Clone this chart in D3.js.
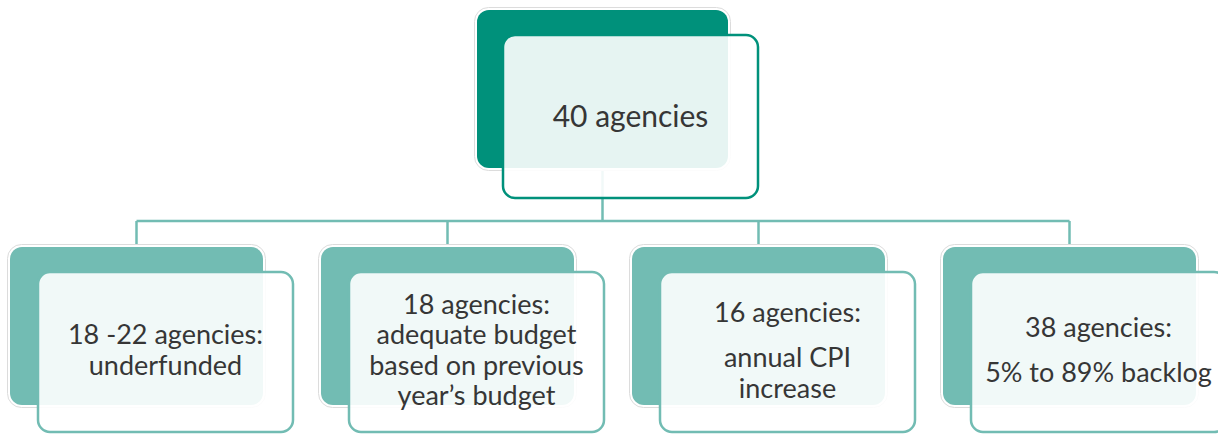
<!DOCTYPE html>
<html>
<head>
<meta charset="utf-8">
<script src="https://cdn.jsdelivr.net/npm/d3@7"></script>
<style>
  html, body { margin: 0; padding: 0; background: #fff; }
  #grid { width: 1218px; height: 434px; }
  text { font-family: Lato, "Open Sans", sans-serif; fill: #363636; }
</style>
</head>
<body>
<div id="grid"><svg id="svg" width="1218" height="434"></svg></div>
<script>
'use strict';

// top box
var rootLabel = ["40 agencies"];

// child boxes, each one is a list of paragraphs, each paragraph a list of lines
var childKeys = ["underfunded", "adequate", "cpi", "backlog"];
var childParagraphs = [
  [["18 -22 agencies:", "underfunded"]],
  [["18 agencies:", "adequate budget", "based on previous", "year\u2019s budget"]],
  [["16 agencies:"], ["annual CPI", "increase"]],
  [["38 agencies:"], ["5% to 89% backlog"]]
];

var darkTeal = "#00917b";
var lightTeal = "#72bcb3";

var svg = d3.select("#grid").select("#svg");

// x positions of the child boxes
var x = d3.scaleBand()
  .domain(childKeys)
  .range([10, 1196])
  .paddingInner(0.1865)
  .paddingOuter(0);

var backW = x.bandwidth();
var backH = 158;
var frontW = 255;
var rad = 12;

var root = { x: 477, y: 10, w: 251, h: 158, dx: 26, dy: 25, fh: 163, fill: darkTeal, stroke: darkTeal };
var childY = 247;
var busY = 221;
var rootCx = root.x + root.w / 2;

// connectors go first so the boxes sit on top
var lines = svg.append("g").attr("class", "links")
  .style("stroke", lightTeal)
  .style("stroke-width", 2.5)
  .style("fill", "none");

lines.append("line")
  .attr("x1", rootCx).attr("x2", rootCx)
  .attr("y1", root.y + root.h / 2).attr("y2", busY);

lines.append("line")
  .attr("x1", x(childKeys[0]) + backW / 2)
  .attr("x2", x(childKeys[childKeys.length - 1]) + backW / 2)
  .attr("y1", busY).attr("y2", busY);

lines.selectAll(".drop")
  .data(childKeys)
  .enter().append("line")
  .attr("class", "drop")
  .attr("x1", function(d) { return x(d) + backW / 2; })
  .attr("x2", function(d) { return x(d) + backW / 2; })
  .attr("y1", busY)
  .attr("y2", childY);

function drawBox(g, b) {
  // thin white/grey outline round the back card
  g.append("rect")
    .attr("x", b.x - 2.5).attr("y", b.y - 2.5)
    .attr("width", b.w + 5).attr("height", b.h + 5)
    .attr("rx", rad + 2).attr("ry", rad + 2)
    .style("fill", "#ffffff")
    .style("stroke", "#dcdcdc")
    .style("stroke-width", 1);
  g.append("rect")
    .attr("x", b.x).attr("y", b.y)
    .attr("width", b.w).attr("height", b.h)
    .attr("rx", rad).attr("ry", rad)
    .style("fill", b.fill);
  // front card, white at 0.9 so the back card shows through a little
  g.append("rect")
    .attr("x", b.x + b.dx).attr("y", b.y + b.dy)
    .attr("width", frontW).attr("height", b.fh)
    .attr("rx", rad).attr("ry", rad)
    .style("fill", "#ffffff")
    .style("fill-opacity", 0.9)
    .style("stroke", b.stroke)
    .style("stroke-width", 2.5);
}

var rootG = svg.append("g").attr("class", "root");
drawBox(rootG, root);
rootG.append("text")
  .attr("x", root.x + root.dx + frontW / 2)
  .attr("y", root.y + root.dy + root.fh / 2 + 10)
  .attr("text-anchor", "middle")
  .style("font-size", "30px")
  .text(rootLabel[0]);

var lineGap = 30.5;
var paraGap = 45.5;

var kids = svg.selectAll(".child")
  .data(childKeys)
  .enter().append("g")
  .attr("class", "child");

kids.each(function(key, i) {
  var g = d3.select(this);
  var b = { x: x(key), y: childY, w: backW, h: backH, dx: 28, dy: 25, fh: 160, fill: lightTeal, stroke: lightTeal };
  drawBox(g, b);

  // work out baselines for every line
  var rows = [];
  var pos = 0;
  childParagraphs[i].forEach(function(para, p) {
    if (p > 0) pos += paraGap - lineGap;
    para.forEach(function(t, j) {
      if (rows.length > 0) pos += lineGap;
      rows.push({ t: t, off: pos });
    });
  });
  var cx = b.x + b.dx + frontW / 2;
  var cy = b.y + b.dy + b.fh / 2 + 7.5;
  var first = cy - pos / 2;

  g.selectAll("text")
    .data(rows)
    .enter().append("text")
    .attr("x", cx)
    .attr("y", function(d) { return first + d.off; })
    .attr("text-anchor", "middle")
    .style("font-size", "27px")
    .text(function(d) { return d.t; });
});
</script>
</body>
</html>
